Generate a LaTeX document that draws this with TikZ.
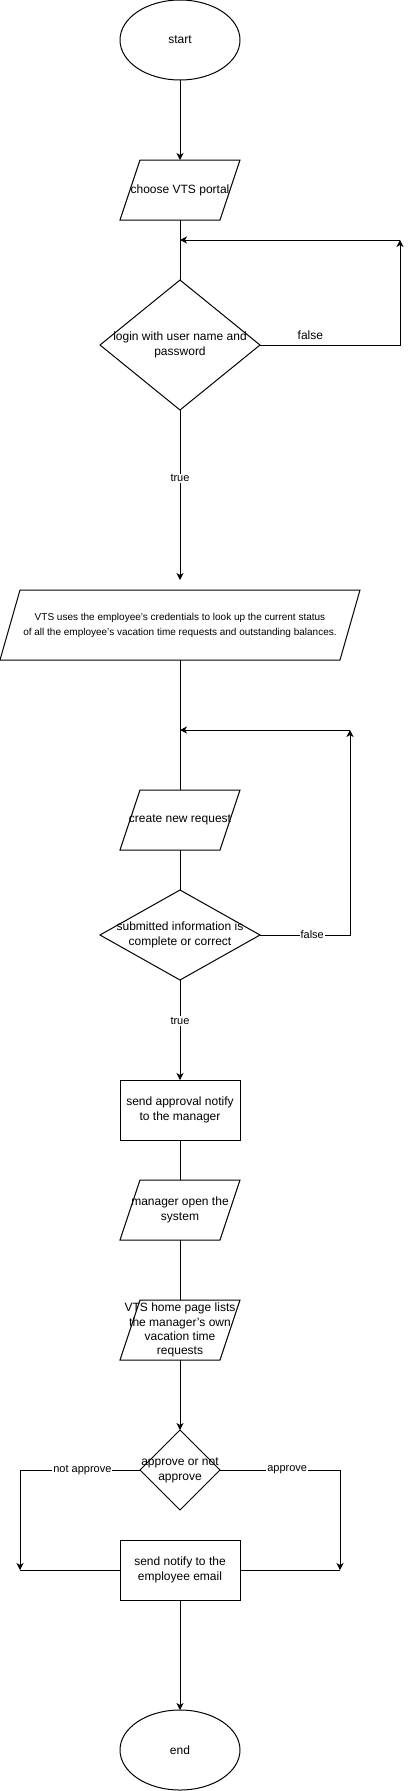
\documentclass[tikz,border=0pt]{standalone}
\usepackage{fontspec}
\setmainfont{Liberation Sans}
\usetikzlibrary{shapes.geometric,arrows.meta,positioning,calc}

% text that may run over the border of its shape
\newcommand{\spill}[1]{\makebox[0pt]{\begin{tabular}{@{}c@{}}#1\end{tabular}}}

\begin{document}
\begin{tikzpicture}[
    x=1pt, y=-1pt,
    line width=1pt,
    node distance=40pt,
    every node/.style={outer sep=0pt},
    terminal/.style={ellipse, draw, minimum width=120pt, minimum height=80pt, inner sep=0pt, font=\fontsize{12}{14.5}\selectfont},
    process/.style={rectangle, draw, minimum width=120pt, minimum height=60pt, inner sep=0pt, align=center, font=\fontsize{12}{14.5}\selectfont},
    decision/.style={diamond, draw, inner sep=0pt, font=\fontsize{12}{15}\selectfont},
    io/.style={rectangle, minimum width=120pt, minimum height=60pt, inner sep=0pt, align=center, font=\fontsize{12}{14.5}\selectfont,
        append after command={\pgfextra{
            \draw ([xshift=20pt]\tikzlastnode.north west) -- (\tikzlastnode.north east)
                -- ([xshift=-20pt]\tikzlastnode.south east) -- (\tikzlastnode.south west) -- cycle;}}},
    lbl/.style={fill=white, inner sep=1pt, font=\fontsize{11}{13}\selectfont},
    arrow/.style={-{Stealth[length=7pt,width=7pt,inset=2pt]}}
]
\useasboundingbox (0,0) rectangle (410,1791);

\node[terminal] (start) at (180,40) {start};
\node[io, below=80pt of start] (portal) {choose VTS portal};
\node[decision, minimum width=160pt, minimum height=130pt, below=60pt of portal] (login) {\spill{login with user name and\\password}};
\node[io, minimum width=360pt, minimum height=70pt, below=180pt of login, font=\fontsize{10}{15}\selectfont] (status) {
    VTS uses the employee’s credentials to look up the current status\\
    of all the employee’s vacation time requests and outstanding balances.
};
\node[io, below=130pt of status] (create) {create new request};
\node[decision, minimum width=160pt, minimum height=90pt, below=40pt of create] (check) {\spill{submitted information is\\complete or correct}};
\node[process, below=100pt of check] (notify) {send approval notify\\to the manager};
\node[io, below=of notify] (open) {manager open the\\system};
\node[io, below=60pt of open, font=\fontsize{12}{14.2}\selectfont] (home) {VTS home page lists\\the manager’s own\\vacation time\\requests};
\node[decision, minimum width=80pt, minimum height=80pt, below=70pt of home] (decide) {\spill{approve or not\\approve}};
\node[process, below=30pt of decide] (email) {send notify to the\\employee email};
\node[terminal, below=110pt of email] (end) {end};

% loop points
\coordinate (loginjoin) at ([yshift=-20pt]portal.south);
\coordinate (loginturn) at ($(loginjoin)+(220pt,0)$);
\coordinate (checkjoin) at ([yshift=-70pt]status.south);
\coordinate (checkturn) at ($(checkjoin)+(170pt,0)$);
\coordinate (rejectpt) at ($(email.west)+(-100pt,0)$);
\coordinate (acceptpt) at ($(email.east)+(100pt,0)$);

\draw[arrow] (start) -- (portal);
\draw (portal) -- (login);
\draw[arrow, shorten >=10pt] (login) -- node[lbl, pos=0.38] {true} (status);
\draw[arrow] (login.east) -- node[lbl, above=4pt, pos=0.36, font=\fontsize{12}{14}\selectfont] {false} (login.east -| loginturn) -- (loginturn);
\draw[arrow] (loginturn) -- (loginjoin);

\draw (status) -- (create);
\draw (create) -- (check);
\draw[arrow] (check.east) -- node[lbl, pos=0.58] {false} (check.east -| checkturn) -- (checkturn);
\draw[arrow] (checkturn) -- (checkjoin);
\draw[arrow] (check) -- node[lbl, pos=0.41] {true} (notify);

\draw (notify) -- (open);
\draw (open) -- (home);
\draw[arrow] (home) -- (decide);

\draw[arrow] (decide.west) -- node[lbl, pos=0.48] {not approve} (decide.west -| rejectpt) -- (rejectpt);
\draw[arrow] (decide.east) -- node[lbl, pos=0.56] {approve} (decide.east -| acceptpt) -- (acceptpt);
\draw (email.west) -- (rejectpt);
\draw (email.east) -- (acceptpt);
\draw[arrow] (email) -- (end);

\end{tikzpicture}
\end{document}
